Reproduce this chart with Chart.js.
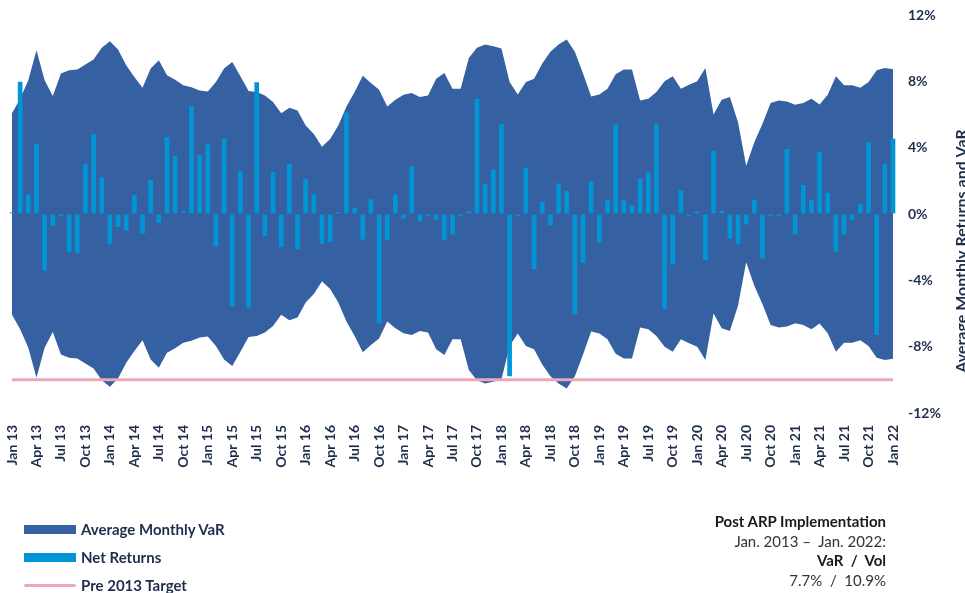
<!DOCTYPE html>
<html>
<head>
<meta charset="utf-8">
<script src="https://cdn.jsdelivr.net/npm/chart.js@4.4.1/dist/chart.umd.min.js"></script>
<style>
  body { margin: 0; background: #fff; font-family: Lato, "Open Sans", sans-serif; }
  #wrap { position: relative; width: 965px; height: 593px; overflow: hidden; }
  #chart { position: absolute; left: 0; top: 0; }
  .legend { position: absolute; left: 24px; color: #1f2d4d; font-weight: bold; font-size: 15px; }
  .legend div { position: absolute; white-space: nowrap; }
  .sw { position: absolute; left: 0; width: 52px; }
  .lt { position: absolute; left: 57px; line-height: 18px; }
  .note { position: absolute; right: 79px; top: 512px; text-align: right; font-size: 15px; line-height: 19.5px; color: #333; white-space: nowrap; }
  .note b { color: #1a1a1a; }
</style>
</head>
<body>
<div id="wrap">
  <canvas id="chart" width="965" height="593"></canvas>
  <div class="legend" style="top:0">
    <div class="sw" style="top:525px;height:9px;background:#3560a2"></div>
    <div class="lt" style="top:520px">Average Monthly VaR</div>
    <div class="sw" style="top:553px;height:9px;background:#0096d6"></div>
    <div class="lt" style="top:548px">Net Returns</div>
    <div class="sw" style="top:584px;height:3px;background:#eaa7b9;border-radius:2px"></div>
    <div class="lt" style="top:576px">Pre 2013 Target</div>
  </div>
  <div class="note">
    <b>Post ARP Implementation</b><br>
    Jan. 2013 &ndash;&nbsp; Jan. 2022:<br>
    <b>VaR&nbsp; /&nbsp; Vol</b><br>
    7.7%&nbsp; /&nbsp; 10.9%
  </div>
</div>
<script>
const monthNames = ["Jan", "Feb", "Mar", "Apr", "May", "Jun", "Jul", "Aug", "Sep", "Oct", "Nov", "Dec"];
const months = [];
for (let y = 13; y <= 22; y++) {
  for (let m = 0; m < 12; m++) {
    if (y === 22 && m > 0) break;
    months.push(monthNames[m] + " " + y);
  }
}

// average monthly VaR (%), Jan 13 .. Jan 22
const varValues = [
  6.08, 6.95, 8.06, 9.88, 8.06, 7.11, 8.47, 8.67, 8.71, 9.01, 9.31, 10.02,
  10.42, 9.92, 8.97, 8.26, 7.62, 8.77, 9.27, 8.36, 8.10, 7.76, 7.65, 7.45,
  7.39, 7.96, 8.77, 9.17, 8.30, 7.41, 7.35, 7.15, 6.75, 6.08, 6.40, 6.24,
  5.33, 4.83, 4.06, 4.52, 5.33, 6.48, 7.35, 8.34, 7.90, 7.50, 6.48, 6.89,
  7.19, 7.29, 7.05, 7.15, 8.16, 8.50, 7.56, 7.56, 9.41, 10.02, 10.22, 10.12,
  9.98, 7.96, 7.21, 7.96, 8.16, 9.07, 9.78, 10.22, 10.52, 9.78, 8.47, 7.09,
  7.21, 7.56, 8.42, 8.71, 8.71, 6.85, 6.95, 7.35, 8.00, 8.30, 7.56, 7.80,
  8.00, 8.81, 6.00, 6.89, 7.05, 5.53, 2.91, 4.32, 5.44, 6.69, 6.85, 6.79,
  6.59, 6.69, 6.95, 6.61, 7.19, 8.30, 7.76, 7.76, 7.62, 7.96, 8.67, 8.81,
  8.73
];

// net monthly returns (%)
const netReturns = [
  0.08, 7.96, 1.17, 4.22, -3.40, -0.71, -0.10, -2.28, -2.32, 2.99, 4.81, 2.18,
  -1.82, -0.77, -0.97, 1.11, -1.17, 2.02, -0.51, 4.61, 3.47, 0.14, 6.50, 3.53,
  4.18, -1.92, 4.54, -5.56, 2.56, -5.62, 7.92, -1.32, 2.50, -1.98, 3.01, -2.12,
  2.08, 1.17, -1.78, -1.66, 0.10, 6.10, 0.36, -1.52, 0.87, -6.57, -1.56, 1.17,
  -0.24, 2.87, -0.45, -0.10, -0.35, -1.56, -1.21, -0.10, 0.14, 6.92, 1.78, 2.63,
  5.41, -9.76, -0.10, 2.77, -3.29, 0.71, -0.67, 1.82, 1.37, -6.02, -2.93, 1.96,
  -1.72, 0.81, 5.38, 0.81, 0.50, 2.12, 2.48, 5.44, -5.70, -3.03, 1.41, -0.10,
  0.14, -2.77, 3.80, 0.16, -1.46, -1.76, -0.61, 0.81, -2.67, -0.10, -0.10, 3.90,
  -1.21, 1.72, 0.81, 3.74, 1.27, -2.26, -1.21, -0.36, 0.57, 4.30, -7.27, 3.01,
  4.52
];

const targetLevel = -10;
const targetLine = months.map(() => targetLevel);
const yTicks = [-12, -8, -4, 0, 4, 8, 12];

const navy = "#1f2d4d";
const varBlue = "#3560a2";

const rightTitle = {
  id: "rightTitle",
  afterDraw(chart) {
    const c = chart.ctx;
    c.save();
    c.translate(967, 251);
    c.rotate(-Math.PI / 2);
    c.fillStyle = navy;
    c.font = "bold 16px Lato";
    c.textAlign = "center";
    c.textBaseline = "alphabetic";
    c.fillText("Average Monthly Returns and VaR", 0, 0);
    c.restore();
  }
};

new Chart(document.getElementById("chart"), {
  type: "bar",
  data: {
    labels: months,
    datasets: [
      {
        type: "line",
        label: "Pre 2013 Target",
        data: targetLine,
        borderColor: "#eaa7b9",
        borderWidth: 3,
        pointRadius: 0,
        fill: false,
        order: 0
      },
      {
        label: "Net Returns",
        data: netReturns,
        backgroundColor: "#0096d6",
        barThickness: 4,
        clip: false,
        order: 1
      },
      {
        type: "line",
        label: "Average Monthly VaR",
        data: varValues,
        borderWidth: 0,
        borderColor: varBlue,
        backgroundColor: varBlue,
        pointRadius: 0,
        tension: 0,
        fill: "origin",
        order: 2
      },
      {
        type: "line",
        label: "Average Monthly VaR (lower)",
        data: varValues.map(v => -v),
        borderWidth: 0,
        borderColor: varBlue,
        backgroundColor: varBlue,
        pointRadius: 0,
        tension: 0,
        fill: "origin",
        order: 3
      }
    ]
  },
  options: {
    responsive: false,
    animation: false,
    layout: { padding: { top: 15, left: 12, right: 0, bottom: 122 } },
    plugins: { legend: { display: false }, tooltip: { enabled: false } },
    scales: {
      x: {
        offset: false,
        grid: { display: false, drawTicks: false },
        border: { display: false },
        afterFit: s => { s.height = 58; },
        ticks: {
          autoSkip: false,
          minRotation: 90,
          maxRotation: 90,
          padding: 12,
          color: navy,
          font: { family: "Lato", size: 14, weight: "bold" },
          callback: (v, i) => (i % 3 === 0 ? months[i] : "")
        }
      },
      y: {
        position: "right",
        min: -12,
        max: 12,
        z: 1,
        afterBuildTicks: s => { s.ticks = yTicks.map(v => ({ value: v })); },
        afterFit: s => { s.width = 72; s.paddingTop = 0; s.paddingBottom = 0; },
        border: { display: false },
        grid: {
          drawTicks: false,
          lineWidth: 2,
          color: ctx => (ctx.tick && ctx.tick.value === 0 ? "#4f5a6b" : "rgba(0,0,0,0)")
        },
        ticks: {
          padding: 15,
          color: navy,
          font: { family: "Lato", size: 14, weight: "bold" },
          callback: v => v + "%"
        }
      }
    }
  },
  plugins: [rightTitle]
});
</script>
</body>
</html>
